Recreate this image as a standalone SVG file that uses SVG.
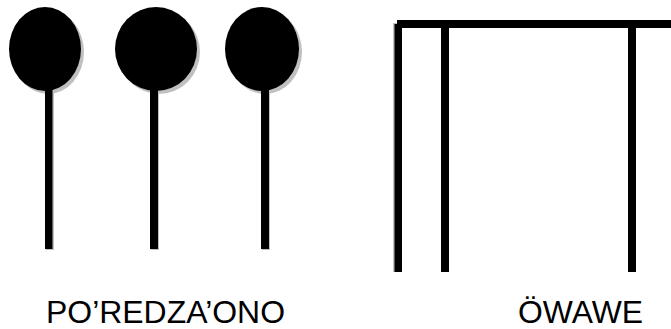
<svg xmlns="http://www.w3.org/2000/svg" width="671" height="329" viewBox="0 0 671 329">
<style>
.sh{fill:#c0c0c0}
.bk{fill:#000}
.lbl{font-family:"Liberation Sans",Arial,sans-serif;font-size:31px;fill:#000}
</style>
<rect width="671" height="329" fill="#fff"/>
<g id="pin1">
<ellipse class="sh" cx="48" cy="52" rx="36" ry="42"/>
<rect class="sh" x="46" y="90" width="8" height="160"/>
<ellipse class="bk" cx="45" cy="49" rx="36" ry="42"/>
<rect class="bk" x="45" y="88" width="7.5" height="161"/>
</g>
<g id="pin2">
<ellipse class="sh" cx="159" cy="52" rx="41" ry="42"/>
<rect class="sh" x="151" y="90" width="8" height="160"/>
<ellipse class="bk" cx="156" cy="49" rx="41" ry="42"/>
<rect class="bk" x="150" y="88" width="8" height="161"/>
</g>
<g id="pin3">
<ellipse class="sh" cx="265" cy="52" rx="37" ry="42"/>
<rect class="sh" x="262" y="90" width="8" height="160"/>
<ellipse class="bk" cx="262" cy="49" rx="37" ry="42"/>
<rect class="bk" x="261" y="88" width="8" height="161"/>
</g>
<g id="frame">
<rect class="sh" x="393" y="23" width="8" height="249"/>
<rect class="bk" x="397" y="20" width="274" height="8"/>
<rect class="bk" x="394.5" y="24" width="7.5" height="248"/>
<rect class="bk" x="441" y="26" width="8" height="246"/>
<rect class="bk" x="628" y="26" width="8" height="246"/>
</g>
<g id="labels">
<text class="lbl" x="46" y="323" textLength="239" lengthAdjust="spacingAndGlyphs">PO’REDZA’ONO</text>
<text class="lbl" x="518" y="323" textLength="125" lengthAdjust="spacingAndGlyphs">ÖWAWE</text>
</g>
</svg>
